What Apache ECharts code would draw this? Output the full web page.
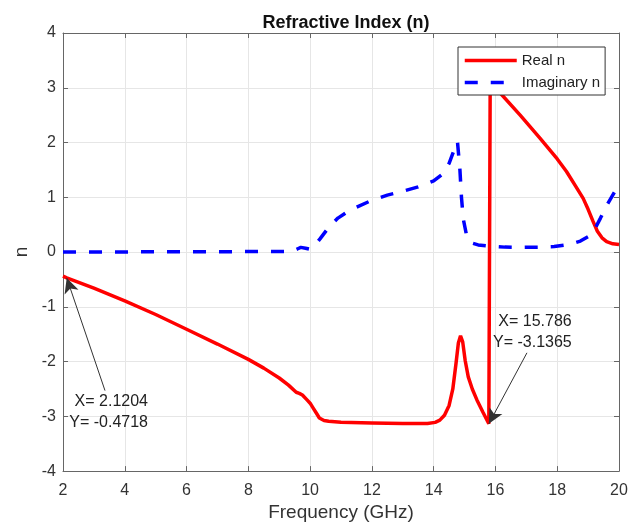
<!DOCTYPE html>
<html>
<head>
<meta charset="utf-8">
<script src="https://cdn.jsdelivr.net/npm/echarts@6/dist/echarts.min.js"></script>
<style>
  html, body { margin: 0; padding: 0; background: #fff; }
  #chart { width: 643px; height: 527px; }
</style>
</head>
<body>
<div id="chart"></div>
<script>
// Frequency samples (GHz) and real part of the refractive index
const freqReal = [2.0, 2.1204, 3.0, 4.0, 5.0, 6.0, 7.0, 8.0, 8.5, 9.0, 9.3, 9.55, 9.65, 9.75, 9.9, 10.0, 10.1, 10.2, 10.3, 10.45, 10.6, 11.0, 12.0, 13.0, 13.8, 14.05, 14.2, 14.35, 14.5, 14.62, 14.72, 14.8, 14.87, 14.94, 15.02, 15.12, 15.25, 15.4, 15.6, 15.786, 15.83, 16.08, 16.8, 17.44, 18.0, 18.3, 18.6, 18.84, 19.0, 19.16, 19.3, 19.45, 19.6, 19.8, 20.0];
const realN    = [-0.44, -0.4718, -0.66, -0.89, -1.14, -1.41, -1.68, -1.96, -2.12, -2.30, -2.43, -2.56, -2.58, -2.61, -2.70, -2.76, -2.85, -2.94, -3.03, -3.075, -3.09, -3.11, -3.12, -3.13, -3.13, -3.11, -3.07, -2.98, -2.80, -2.50, -2.05, -1.66, -1.53, -1.64, -1.98, -2.28, -2.50, -2.70, -2.93, -3.1365, 3.1, 2.95, 2.50, 2.08, 1.70, 1.47, 1.20, 0.98, 0.78, 0.56, 0.38, 0.26, 0.19, 0.15, 0.14];

// Frequency samples (GHz) and imaginary part of the refractive index
const freqImag = [2.0, 9.4, 9.6, 9.7, 9.85, 10.0, 10.15, 10.32, 10.6, 10.9, 11.3, 11.94, 12.5, 13.0, 13.5, 14.0, 14.3, 14.5, 14.62, 14.77, 14.85, 14.9, 14.96, 15.06, 15.2, 15.44, 15.8, 16.3, 16.8, 17.4, 17.9, 18.4, 18.75, 19.0, 19.2, 19.4, 19.6, 19.86, 20.0];
const imagN    = [0.0, 0.01, 0.06, 0.085, 0.07, 0.05, 0.12, 0.24, 0.45, 0.62, 0.77, 0.93, 1.04, 1.11, 1.19, 1.30, 1.43, 1.62, 1.80, 2.02, 1.50, 1.00, 0.60, 0.32, 0.17, 0.13, 0.11, 0.09, 0.085, 0.09, 0.10, 0.14, 0.20, 0.28, 0.40, 0.62, 0.85, 1.10, 1.15];

// Data tips on the real curve
const tipX = [2.1204, 15.786];
const tipY = [-0.4718, -3.1365];

const seriesNames = ['Real n', 'Imaginary n'];

// Where each data-tip box and its leader line sit (axis units)
const tipLabelAt = [[4.751, -2.923], [18.47, -1.455]];
const tipTailAt  = [[3.36, -2.53], [17.02, -1.84]];

const zip = (xs, ys) => xs.map((x, i) => [x, ys[i]]);

const axisColor = '#666';
const textColor = '#333';
const fontFamily = '"Liberation Sans", Arial, sans-serif';

const chart = echarts.init(document.getElementById('chart'), null, { renderer: 'canvas' });

const tickAxisBase = {
  axisLine: { show: true, onZero: false, lineStyle: { color: axisColor, width: 1 } },
  axisTick: { show: true, inside: true, length: 5, lineStyle: { color: axisColor } }
};

chart.setOption({
  animation: false,
  backgroundColor: '#fff',
  textStyle: { fontFamily },
  title: {
    text: 'Refractive Index (n)',
    left: 341,
    textAlign: 'center',
    top: 9,
    textStyle: { fontSize: 18, fontWeight: 'bold', color: '#111', fontFamily }
  },
  grid: { left: 63, right: 24, top: 33, bottom: 55, containLabel: false },
  legend: {
    data: seriesNames,
    orient: 'vertical',
    left: 458,
    top: 47,
    padding: [6, 5, 5, 5],
    itemGap: 7,
    itemWidth: 52,
    itemHeight: 14,
    itemStyle: { opacity: 0 },
    lineStyle: { width: 3.5 },
    backgroundColor: '#fff',
    borderColor: '#333',
    borderWidth: 1,
    borderRadius: 0,
    textStyle: { fontSize: 15, color: '#222', fontFamily }
  },
  xAxis: [
    Object.assign({
      type: 'value', min: 2, max: 20, interval: 2, position: 'bottom',
      name: 'Frequency (GHz)', nameLocation: 'middle', nameGap: 31,
      nameTextStyle: { fontSize: 19, color: textColor, fontFamily },
      axisLabel: { fontSize: 16, color: textColor, margin: 11, fontFamily },
      splitLine: { show: true, lineStyle: { color: '#e6e6e6', width: 1 } }
    }, tickAxisBase),
    Object.assign({
      type: 'value', min: 2, max: 20, interval: 2, position: 'top',
      axisLabel: { show: false }, splitLine: { show: false }
    }, tickAxisBase)
  ],
  yAxis: [
    Object.assign({
      type: 'value', min: -4, max: 4, interval: 1, position: 'left',
      name: 'n', nameLocation: 'middle', nameGap: 27,
      nameTextStyle: { fontSize: 19, color: textColor, fontFamily },
      axisLabel: { fontSize: 16, color: textColor, margin: 7, fontFamily },
      splitLine: { show: true, lineStyle: { color: '#e6e6e6', width: 1 } }
    }, tickAxisBase),
    Object.assign({
      type: 'value', min: -4, max: 4, interval: 1, position: 'right',
      axisLabel: { show: false }, splitLine: { show: false }
    }, tickAxisBase)
  ],
  series: [
    {
      name: seriesNames[0],
      type: 'line',
      xAxisIndex: 0, yAxisIndex: 0,
      data: zip(freqReal, realN),
      symbol: 'none',
      smooth: false,
      color: '#ff0000',
      lineStyle: { color: '#ff0000', width: 3.5 },
      z: 2,
      markLine: {
        silent: true,
        symbol: ['none', 'arrow'],
        symbolSize: [11, 15],
        label: { show: false },
        lineStyle: { color: '#333', width: 1, type: 'solid' },
        itemStyle: { color: '#111' },
        data: tipX.map((x, i) => [
          { coord: tipTailAt[i] },
          { coord: [x, tipY[i]] }
        ])
      },
      markPoint: {
        silent: true,
        symbol: 'circle',
        symbolSize: 0,
        itemStyle: { color: 'transparent' },
        data: tipX.map((x, i) => ({
          coord: tipLabelAt[i],
          label: {
            show: true,
            position: 'left',
            distance: 0,
            align: 'right',
            verticalAlign: 'middle',
            lineHeight: 21,
            fontSize: 16,
            color: '#222',
            fontFamily,
            formatter: 'X= ' + x + '\nY= ' + tipY[i]
          }
        }))
      }
    },
    {
      name: seriesNames[1],
      type: 'line',
      xAxisIndex: 0, yAxisIndex: 0,
      data: zip(freqImag, imagN),
      symbol: 'none',
      smooth: false,
      color: '#0000ff',
      lineStyle: { color: '#0000ff', width: 3.5, type: [13, 13] },
      z: 3
    }
  ]
});
</script>
</body>
</html>
